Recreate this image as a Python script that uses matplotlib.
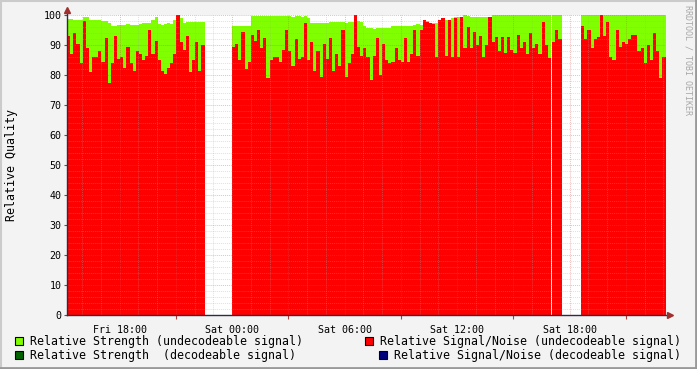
import datetime as dt
import numpy as np
import matplotlib
matplotlib.use('Agg')
import matplotlib.pyplot as plt
import matplotlib.dates as mdates
from matplotlib.ticker import MultipleLocator, FuncFormatter
from matplotlib.patches import Rectangle
from matplotlib.lines import Line2D

# one sample every 10 minutes, four runs of data with gaps in between
step = dt.timedelta(minutes=10)
seg_starts = [dt.datetime(2010, 1, 1, 15, 12), dt.datetime(2010, 1, 2, 0, 0),
              dt.datetime(2010, 1, 2, 17, 4), dt.datetime(2010, 1, 2, 18, 37)]
x_start = dt.datetime(2010, 1, 1, 15, 12)
x_end = dt.datetime(2010, 1, 2, 23, 5)

# relative strength (undecodeable signal)
strength_1 = [98.6, 98.6, 98.5, 98.5, 98.3, 99.4, 99.4, 98.3, 98.3, 98.3,
              98.2, 98.0, 98.0, 97.5, 96.2, 96.2, 96.7, 96.7, 96.8, 97.0,
              96.8, 96.7, 96.8, 97.0, 97.2, 97.2, 97.5, 98.5, 99.3, 97.0,
              96.8, 97.0, 97.2, 97.0, 98.5, 99.7, 99.0, 97.5, 97.8, 97.8,
              97.8, 97.8, 97.8, 97.8]
strength_2 = [96.4, 96.5, 96.3, 96.3, 96.2, 96.3, 99.8, 99.8, 99.8, 99.8,
              99.7, 99.8, 99.8, 99.8, 99.7, 99.8, 99.8, 99.6, 99.6, 99.5,
              99.7, 99.7, 99.5, 99.6, 99.0, 97.5, 97.2, 97.2, 97.3, 97.2,
              97.5, 97.8, 97.8, 97.8, 97.8, 97.8, 97.5, 97.6, 97.8, 98.0,
              98.0, 97.8, 96.5, 95.6, 95.6, 95.5, 95.6, 95.8, 95.8, 95.6,
              95.8, 96.3, 96.5, 96.3, 96.3, 96.5, 96.5, 96.5, 96.8, 97.0,
              96.8, 98.3, 98.0, 97.2, 97.2, 97.5, 98.0, 98.0, 98.2, 98.3,
              99.0, 99.2, 99.5, 99.5, 100.0, 99.8, 99.5, 99.5, 99.5, 99.5,
              99.5, 99.5, 99.5, 100.0, 100.0, 100.0, 100.0, 100.0, 100.0, 100.0,
              100.0, 100.0, 100.0, 100.0, 100.0, 100.0, 100.0, 100.0, 100.0, 100.0,
              100.0, 100.0]
strength_3 = [100.0, 100.0, 100.0]
strength_4 = [100.0] * 27

# relative signal/noise (undecodeable signal)
snr_1 = [93.0, 87.0, 94.0, 90.5, 84.0, 98.0, 89.0, 81.0, 86.0, 86.0,
         88.0, 84.5, 92.5, 77.5, 84.0, 93.0, 85.5, 86.0, 82.5, 89.5,
         84.0, 81.5, 88.0, 87.0, 85.0, 86.5, 95.0, 87.0, 91.5, 85.0,
         81.5, 80.5, 82.5, 84.0, 87.0, 100.0, 91.0, 88.5, 93.0, 81.0,
         85.0, 91.0, 81.5, 90.0]
snr_2 = [89.5, 90.5, 85.0, 94.5, 82.0, 84.5, 93.5, 91.5, 95.0, 89.0,
         92.5, 79.0, 85.0, 86.0, 86.0, 84.5, 88.5, 95.0, 88.0, 83.0,
         92.0, 85.5, 86.0, 97.5, 85.0, 91.0, 81.5, 88.0, 79.5, 90.5,
         85.5, 92.5, 81.5, 87.0, 83.0, 95.0, 79.5, 84.0, 87.0, 100.0,
         89.5, 86.5, 89.0, 86.0, 78.5, 86.5, 92.5, 80.0, 90.5, 85.0,
         84.0, 84.5, 89.0, 85.0, 84.5, 92.5, 84.5, 87.0, 95.0, 86.5,
         95.0, 98.3, 97.8, 97.5, 97.0, 86.0, 98.5, 99.0, 86.5, 98.3,
         86.0, 99.0, 86.0, 99.3, 89.0, 96.0, 89.0, 94.5, 90.0, 93.0,
         86.0, 90.0, 99.4, 91.0, 92.8, 88.0, 92.8, 87.5, 92.8, 88.5,
         87.5, 93.5, 89.0, 91.0, 87.0, 93.9, 89.0, 90.5, 87.0, 97.8,
         90.0, 85.6]
snr_3 = [91.0, 95.0, 92.0]
snr_4 = [96.5, 92.0, 95.0, 89.0, 92.0, 92.8, 100.0, 93.0, 97.8, 86.0,
         85.0, 95.0, 89.5, 91.0, 90.5, 92.0, 93.5, 93.5, 88.0, 89.0,
         84.0, 90.0, 85.0, 94.0, 88.0, 79.0, 86.0]

strength = [strength_1, strength_2, strength_3, strength_4]
snr = [snr_1, snr_2, snr_3, snr_4]

legend_left = [('#7FFF00', 'Relative Strength (undecodeable signal)'),
               ('#006400', 'Relative Strength  (decodeable signal)')]
legend_right = [('#FF0000', 'Relative Signal/Noise (undecodeable signal)'),
                ('#000080', 'Relative Signal/Noise (decodeable signal)')]

W, H = 697, 369
mono = 'DejaVu Sans Mono'


def fx(px):
    return px / W


def fy(py):
    return 1 - py / H


fig = plt.figure(figsize=(W / 100, H / 100), dpi=100, facecolor='#F3F3F3')
ax = fig.add_axes([fx(67), fy(315), fx(665) - fx(67), fy(15) - fy(315)])
ax.set_facecolor('white')

for start, s_vals, n_vals in zip(seg_starts, strength, snr):
    t = [start + i * step for i in range(len(s_vals) + 1)]
    ax.fill_between(t, 0, s_vals + s_vals[-1:], step='post', color='#7FFF00',
                    linewidth=0, antialiased=False, zorder=1)
    ax.fill_between(t, 0, n_vals + n_vals[-1:], step='post', color='#FF0000',
                    linewidth=0, antialiased=False, zorder=1.5)

ax.set_xlim(x_start, x_end)
ax.set_ylim(0, 100)

# axes and grid in rrdtool style
ax.xaxis.set_major_locator(mdates.HourLocator(byhour=range(0, 24, 3)))
ax.xaxis.set_minor_locator(mdates.HourLocator())


def time_label(x, pos):
    d = mdates.num2date(x)
    return d.strftime('%a %H:%M') if d.hour % 6 == 0 else ''


ax.xaxis.set_major_formatter(FuncFormatter(time_label))
ax.yaxis.set_major_locator(MultipleLocator(10))
ax.yaxis.set_minor_locator(MultipleLocator(2))

ax.set_axisbelow(False)
ax.grid(which='minor', color='#A8A8A8', linestyle=(0, (1, 1)), linewidth=0.7, alpha=0.35)
ax.grid(which='major', color='#D85050', linestyle=(0, (1, 1)), linewidth=0.7, alpha=0.38)

ax.tick_params(axis='x', which='major', length=3, color='#B04040', labelsize=7.2,
               pad=4, labelfontfamily=mono)
ax.tick_params(axis='x', which='minor', length=0)
ax.tick_params(axis='y', which='major', length=2, color='#555555', labelsize=7.2,
               pad=2, labelfontfamily=mono)
ax.tick_params(axis='y', which='minor', length=0)

for side in ['top', 'right', 'left', 'bottom']:
    ax.spines[side].set_visible(False)

fig.canvas.draw()
for tick in ax.xaxis.get_major_ticks():
    if tick.label1.get_text():
        tick.tick1line.set_visible(False)

# axis lines with arrows
axis_col = '#2C2C44'
arrow_col = '#A03030'
fig.add_artist(Line2D([fx(67), fx(67)], [fy(315), fy(10)], color=axis_col, lw=1.0,
                      transform=fig.transFigure))
fig.add_artist(Line2D([fx(67), fx(670)], [fy(315), fy(315)], color=axis_col, lw=1.0,
                      transform=fig.transFigure))
fig.add_artist(Line2D([fx(67)], [fy(10)], marker='^', markersize=4.5, color=arrow_col,
                      transform=fig.transFigure))
fig.add_artist(Line2D([fx(670)], [fy(315)], marker='>', markersize=4.5, color=arrow_col,
                      transform=fig.transFigure))

fig.text(fx(12), fy(165), 'Relative Quality', rotation=90, ha='center', va='center',
         fontsize=8.4, family=mono, color='black')
fig.text(fx(688), fy(60), 'RRDTOOL / TOBI OETIKER', rotation=270, ha='center', va='center',
         fontsize=6, family=mono, color='#A8A8A8')

# legend
rows_y = [341, 355]
for (col, label), y in zip(legend_left, rows_y):
    fig.add_artist(Rectangle((fx(15), fy(y + 4)), fx(8), fy(0) - fy(8), facecolor=col,
                             edgecolor='black', lw=0.8, transform=fig.transFigure))
    fig.text(fx(30), fy(y), label, ha='left', va='center', fontsize=8.4, family=mono)
for (col, label), y, x0 in zip(legend_right, rows_y, [365, 379]):
    fig.add_artist(Rectangle((fx(x0), fy(y + 4)), fx(8), fy(0) - fy(8), facecolor=col,
                             edgecolor='black', lw=0.8, transform=fig.transFigure))
    fig.text(fx(x0 + 15), fy(y), label, ha='left', va='center', fontsize=8.4, family=mono)

# frame shading
fig.add_artist(Line2D([0, 1], [fy(0.5), fy(0.5)], color='#CBCBCB', lw=1.5, transform=fig.transFigure))
fig.add_artist(Line2D([fx(0.5), fx(0.5)], [0, 1], color='#CBCBCB', lw=1.5, transform=fig.transFigure))
fig.add_artist(Line2D([0, 1], [fy(H - 1), fy(H - 1)], color='#999999', lw=2, transform=fig.transFigure))
fig.add_artist(Line2D([fx(W - 1), fx(W - 1)], [0, 1], color='#999999', lw=2, transform=fig.transFigure))

fig.savefig('out.png', dpi=100, facecolor=fig.get_facecolor())
